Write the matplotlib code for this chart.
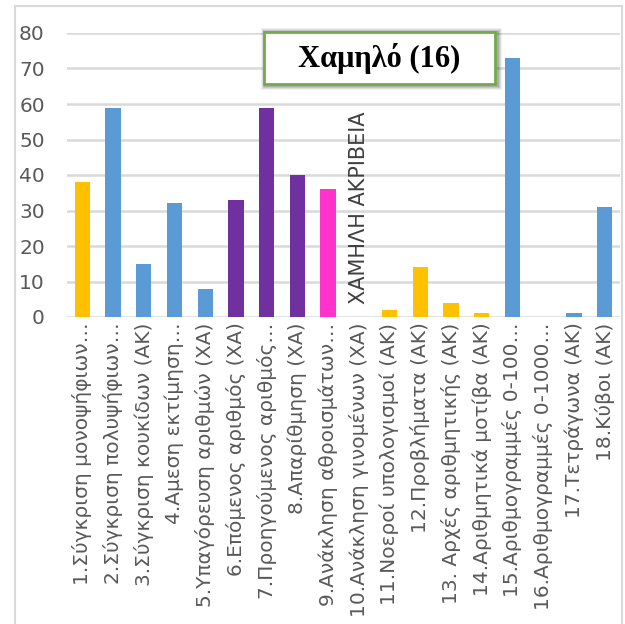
import matplotlib.pyplot as plt
from matplotlib.patches import Rectangle

# Δεδομένα
labels = [
    '1.Σύγκριση μονοψήφιων…',
    '2.Σύγκριση πολυψήφιων…',
    '3.Σύγκριση κουκίδων (ΑΚ)',
    '4.Αμεση εκτίμηση…',
    '5.Υπαγόρευση αριθμών (ΧΑ)',
    '6.Επόμενος αριθμός (ΧΑ)',
    '7.Προηγούμενος αριθμός…',
    '8.Απαρίθμηση (ΧΑ)',
    '9.Ανάκληση αθροισμάτων…',
    '10.Ανάκληση γινομένων (ΧΑ)',
    '11.Νοεροί υπολογισμοί (ΑΚ)',
    '12.Προβλήματα (ΑΚ)',
    '13. Αρχές αριθμητικής (ΑΚ)',
    '14.Αριθμητικά μοτίβα (ΑΚ)',
    '15.Αριθμογραμμές 0-100…',
    '16.Αριθμογραμμές 0-1000…',
    '17.Τετράγωνα (ΑΚ)',
    '18.Κύβοι (ΑΚ)',
]
values = [38, 59, 15, 32, 8, 33, 59, 40, 36, 0, 2, 14, 4, 1, 73, 0, 1, 31]
groups = ['y', 'b', 'b', 'b', 'b', 'p', 'p', 'p', 'm', 'y',
          'y', 'y', 'y', 'y', 'b', 'b', 'b', 'b']
palette = {'y': '#FFC000', 'b': '#5B9BD5', 'p': '#7030A0', 'm': '#FF33CC'}
note_label = 'ΧΑΜΗΛΗ ΑΚΡΙΒΕΙΑ'
note_index = 9
title_text = 'Χαμηλό (16)'

W, H = 625, 624
fig = plt.figure(figsize=(6.25, 6.24), dpi=100)

# Πλαίσιο γραφήματος
fig.patches.append(Rectangle((15 / W, -0.1), (622 - 15) / W, 1.1 - 6 / H,
                             transform=fig.transFigure, fill=False,
                             edgecolor='#D9D9D9', linewidth=1.5))

ax = fig.add_axes([67 / W, (H - 317) / H, (620 - 67) / W, (317 - 33) / H])
x = list(range(len(values)))
ax.bar(x, values, width=0.5, color=[palette[g] for g in groups], zorder=3)

ax.set_xlim(-0.5, len(values) - 0.5)
ax.set_ylim(0, 80)
ax.set_yticks(range(0, 81, 10))
ax.grid(axis='y', color='#D9D9D9', linewidth=1.8, zorder=0)
for s in ax.spines.values():
    s.set_visible(False)
ax.set_xticks(x)
ax.set_xticklabels(labels, rotation=90, fontsize=14.5, color='#595959')
ax.tick_params(axis='x', length=0, pad=4)
ax.tick_params(axis='y', length=0, pad=16, labelsize=14.5, labelcolor='#595959')

ax.annotate(note_label, (note_index, values[note_index]), xytext=(0, 9),
            textcoords='offset points', rotation=90, ha='center', va='bottom',
            fontsize=15, color='#404040', zorder=4)

# Πλαίσιο τίτλου με σκιά
bx0, bx1, by0, by1 = 264, 495, 32, 84
for k, a in [(5, 0.06), (4, 0.08), (3, 0.1), (2, 0.12)]:
    fig.patches.append(Rectangle(((bx0 - k + 2) / W, (H - by1 - k - 1) / H),
                                 (bx1 - bx0 + 2 * k) / W, (by1 - by0 + 2 * k) / H,
                                 transform=fig.transFigure, facecolor='black',
                                 edgecolor='none', alpha=a, zorder=5))
fig.patches.append(Rectangle((bx0 / W, (H - by1) / H), (bx1 - bx0) / W, (by1 - by0) / H,
                             transform=fig.transFigure, facecolor='white',
                             edgecolor='#70AD47', linewidth=2, zorder=6))
fig.text((bx0 + bx1) / 2 / W, 1 - (by0 + by1) / 2 / H, title_text,
         ha='center', va='center', fontsize=22, fontweight='bold',
         family='Liberation Serif', color='black', zorder=7)

plt.savefig('out.png')
